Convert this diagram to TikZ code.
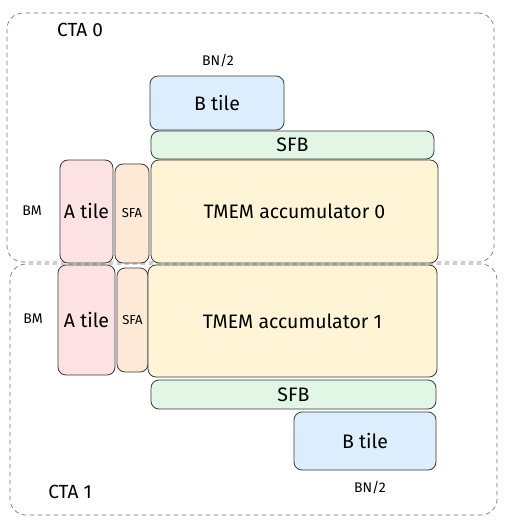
\documentclass[tikz,border=0pt]{standalone}
\usepackage[rgb]{xcolor}
\usepackage{fontspec}
\setmainfont{Fira Sans}
\definecolor{atint}{HTML}{FCE2E2}
\definecolor{sfatint}{HTML}{FEE9D6}
\definecolor{btint}{HTML}{DCEEFD}
\definecolor{sfbtint}{HTML}{E1F6E4}
\definecolor{tmemtint}{HTML}{FFF5D6}
\definecolor{lijn}{HTML}{3A3A3A}

\begin{document}
\begin{tikzpicture}[x=1pt, y=-1pt, inner sep=0, outer sep=0,
    blok/.style={draw=lijn, line width=0.8pt, rounded corners=8pt, font=\fontsize{19.5}{22}\selectfont},
    cta/.style={draw=gray!90!black, line width=0.7pt, dash pattern=on 4.5pt off 3.5pt, rounded corners=16pt},
    maat/.style={font=\fontsize{14}{16}\selectfont}]
    % kader
    \useasboundingbox (0,0) rectangle (505,524);
    % cta kaders
    \node[cta, minimum width=487, minimum height=249] (cta0) at (250.5,137.5) {};
    \node[cta, minimum width=487, minimum height=251] (cta1) at (253.5,389.5) {};
    % cta 0
    \node[blok, fill=btint, minimum width=134, minimum height=54] (btile0) at (217,103) {B tile};
    \node[blok, fill=sfbtint, minimum width=283, minimum height=28] (sfb0) at (292.5,145) {SFB};
    \node[blok, fill=tmemtint, minimum width=287, minimum height=103] (tmem0) at (294.5,211.5) {TMEM accumulator 0};
    \node[blok, fill=atint, minimum width=53, minimum height=103] (atile0) at (86.5,211.5) {A tile};
    \node[blok, fill=sfatint, minimum width=34, minimum height=99, font=\fontsize{13}{15}\selectfont] (sfa0) at (132,213.5) {SFA};
    % cta 1
    \node[blok, fill=atint, minimum width=57, minimum height=110] (atile1) at (86.5,320) {A tile};
    \node[blok, fill=sfatint, minimum width=31, minimum height=104, font=\fontsize{13}{15}\selectfont] (sfa1) at (132.5,320) {SFA};
    \node[blok, fill=tmemtint, minimum width=289, minimum height=112] (tmem1) at (292.5,321) {TMEM accumulator 1};
    \node[blok, fill=sfbtint, minimum width=285, minimum height=29] (sfb1) at (293.5,394.5) {SFB};
    \node[blok, fill=btint, minimum width=142, minimum height=58] (btile1) at (365,441) {B tile};
    % labels
    \node[font=\fontsize{19}{21}\selectfont] (naam0) at (80,30) {CTA 0};
    \node[font=\fontsize{19}{21}\selectfont] (naam1) at (70,492) {CTA 1};
    \node[maat] (bn0) at (218,61) {BN/2};
    \node[maat] (bn1) at (370,488) {BN/2};
    \node[maat] (bm0) at (32,211) {BM};
    \node[maat] (bm1) at (33,319) {BM};
\end{tikzpicture}
\end{document}
